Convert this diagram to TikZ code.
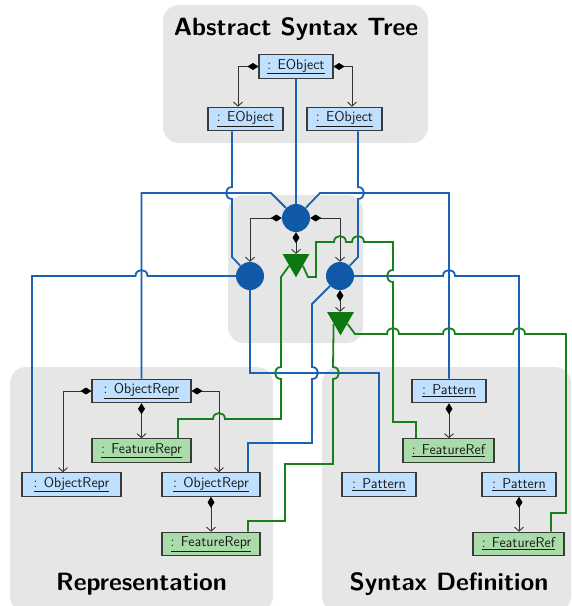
\documentclass[tikz,border=0pt]{standalone}
\usetikzlibrary{arrows.meta,shapes.geometric}

\definecolor{panel}{HTML}{E6E6E6}
\definecolor{objblue}{HTML}{BFE0FF}
\definecolor{featgreen}{HTML}{A9DCA9}
\definecolor{boxline}{HTML}{3A3A3A}
\definecolor{compline}{HTML}{333333}
\definecolor{linkblue}{HTML}{1A62B3}
\definecolor{linkgreen}{HTML}{17801A}
\definecolor{hubblue}{HTML}{0F59A7}
\definecolor{hubgreen}{HTML}{0D780F}

% line hops: a small half circle where one link passes over another
\newcommand\hopdownleft[2]{-- (#1,#2-6) .. controls (#1-8,#2-6) and (#1-8,#2+6) .. (#1,#2+6)}
\newcommand\hopdownright[2]{-- (#1,#2-6) .. controls (#1+8,#2-6) and (#1+8,#2+6) .. (#1,#2+6)}
\newcommand\hopright[2]{-- (#1-6,#2) .. controls (#1-6,#2-8) and (#1+6,#2-8) .. (#1+6,#2)}
\newcommand\hopleft[2]{-- (#1+6,#2) .. controls (#1+6,#2-8) and (#1-6,#2-8) .. (#1-6,#2)}

\newcommand\lbl{\fontsize{14.3}{16}\selectfont\sffamily}
\newcommand\ttl{\fontsize{25}{29}\selectfont\sffamily\bfseries}

\tikzset{
  panelbox/.style={fill=panel, rounded corners=16pt},
  obj/.style={draw=boxline, fill=objblue, line width=1.1pt, minimum height=23.5pt,
    inner sep=0pt, font=\lbl, text=black!90},
  feat/.style={obj, fill=featgreen},
  hub/.style={circle, fill=hubblue, minimum size=28pt, inner sep=0pt},
  vtri/.style={regular polygon, regular polygon sides=3, shape border rotate=180,
    fill=hubgreen, minimum size=31pt, inner sep=0pt},
  comp/.style={draw=compline, line width=0.9pt,
    {Diamond[length=11pt,width=7pt,color=black]}-{Straight Barb[length=4pt,width=9pt]}},
  bluelink/.style={draw=linkblue, line width=1.8pt},
  greenlink/.style={draw=linkgreen, line width=1.8pt},
  heading/.style={font=\ttl, anchor=base, inner sep=0pt},
}

\begin{document}
\begin{tikzpicture}[x=1pt,y=-1pt]
\useasboundingbox (0,0) rectangle (572,606);
\clip (0,0) rectangle (572,606);

% grouping panels
\fill[panelbox] (163,5) rectangle (428,143);
\fill[panelbox] (228,195) rectangle (363,343);
\fill[panelbox] (10,367) rectangle (273,612);
\fill[panelbox] (322,367) rectangle (571,612);

\node[heading] at (296,35) {Abstract Syntax Tree};
\node[heading] at (141.5,590) {Representation};
\node[heading] at (449,590) {Syntax Definition};

% abstract syntax tree
\node[obj, minimum width=74pt] (eo)  at (296,66.5) {\underline{: EObject}};
\node[obj, minimum width=75pt] (eoL) at (245.5,119) {\underline{: EObject}};
\node[obj, minimum width=75pt] (eoR) at (344.5,119) {\underline{: EObject}};

% mapping hubs
\node[hub] (tc) at (296,218) {};
\node[hub] (lc) at (250,276) {};
\node[hub] (rc) at (340,276) {};
\node[vtri] (t1) at (296,261.8) {};
\node[vtri] (t2) at (340.5,319.8) {};

% representation
\node[obj,  minimum width=99pt] (orTop) at (141.5,391) {\underline{: ObjectRepr}};
\node[feat, minimum width=99pt] (frMid) at (141.5,450.5) {\underline{: FeatureRepr}};
\node[obj,  minimum width=99pt] (orL)   at (71.5,484.5) {\underline{: ObjectRepr}};
\node[obj,  minimum width=98pt] (orR)   at (211,484.5) {\underline{: ObjectRepr}};
\node[feat, minimum width=98pt] (frBot) at (211,544) {\underline{: FeatureRepr}};

% syntax definition
\node[obj,  minimum width=74pt] (patTop) at (449,391) {\underline{: Pattern}};
\node[feat, minimum width=91pt] (refMid) at (448.5,450.5) {\underline{: FeatureRef}};
\node[obj,  minimum width=74pt] (patMid) at (379,484.5) {\underline{: Pattern}};
\node[obj,  minimum width=74pt] (patR)   at (519,484.5) {\underline{: Pattern}};
\node[feat, minimum width=91pt] (refBot) at (518.5,544) {\underline{: FeatureRef}};

% compositions
\draw[comp] (eo.west) -| ([xshift=-7.5pt]eoL.north);
\draw[comp] (eo.east) -| ([xshift=7.5pt]eoR.north);
\draw[comp] (tc.west) -| (lc.north);
\draw[comp] (tc.east) -| (rc.north);
\draw[comp] (tc.south) -- (t1.north);
\draw[comp] (rc.south) -- ([xshift=-0.5pt]t2.north);
\draw[comp] (orTop.west) -| ([xshift=-8.5pt]orL.north);
\draw[comp] (orTop.east) -| ([xshift=8pt]orR.north);
\draw[comp] (orTop.south) -- (frMid.north);
\draw[comp] (orR.south) -- (frBot.north);
\draw[comp] (patTop.south) -- ([xshift=0.5pt]refMid.north);
\draw[comp] (patR.south) -- ([xshift=0.5pt]refBot.north);

% object links
\draw[bluelink] (eo.south) -- (tc);
\draw[bluelink] ([xshift=-13.5pt]eoL.south) \hopdownleft{232}{193} -- (232,257) -- (lc);
\draw[bluelink] ([xshift=13.5pt]eoR.south) \hopdownright{358}{193} -- (358,257) -- (rc);
\draw[bluelink] (orTop.north) |- (271,193) -- (tc);
\draw[bluelink] (tc) -- (320,193) -| (patTop.north);
\draw[bluelink] ([xshift=-39.5pt]orL.north) -- (32,276) \hopright{141.5}{276} -- (lc);
\draw[bluelink] (lc) -- (250,373) -| (patMid.north);
\draw[bluelink] (rc) \hopright{449}{276} -| (patR.north);
\draw[bluelink] (rc) -- (312,304) \hopdownright{312}{373} -- (312,443) -| ([xshift=37pt]orR.north);

% feature links
\draw[greenlink] (t1.-30) -- (308,277) -- (316,277) -- (316,242)
  \hopright{340}{242} \hopright{358}{242} -- (393,242)
  \hopdownleft{393}{276} -- (393,422) -| ([xshift=-32.5pt]refMid.north);
\draw[greenlink] (t1.210) -- (281,277) \hopdownleft{281}{373} -- (281,419)
  \hopleft{219}{419} -| ([xshift=36.5pt]frMid.north);
\draw[greenlink] (t2.210) \hopdownright{333}{373} -- (333,464) -- (285,464)
  -- (285,521) -| ([xshift=37pt]frBot.north);
\draw[greenlink] (t2.-30) -- (355,334) \hopright{393}{334} \hopright{449}{334}
  \hopright{519}{334} -- (566,334) -- (566,513) -| ([xshift=32.5pt]refBot.north);
\end{tikzpicture}
\end{document}
